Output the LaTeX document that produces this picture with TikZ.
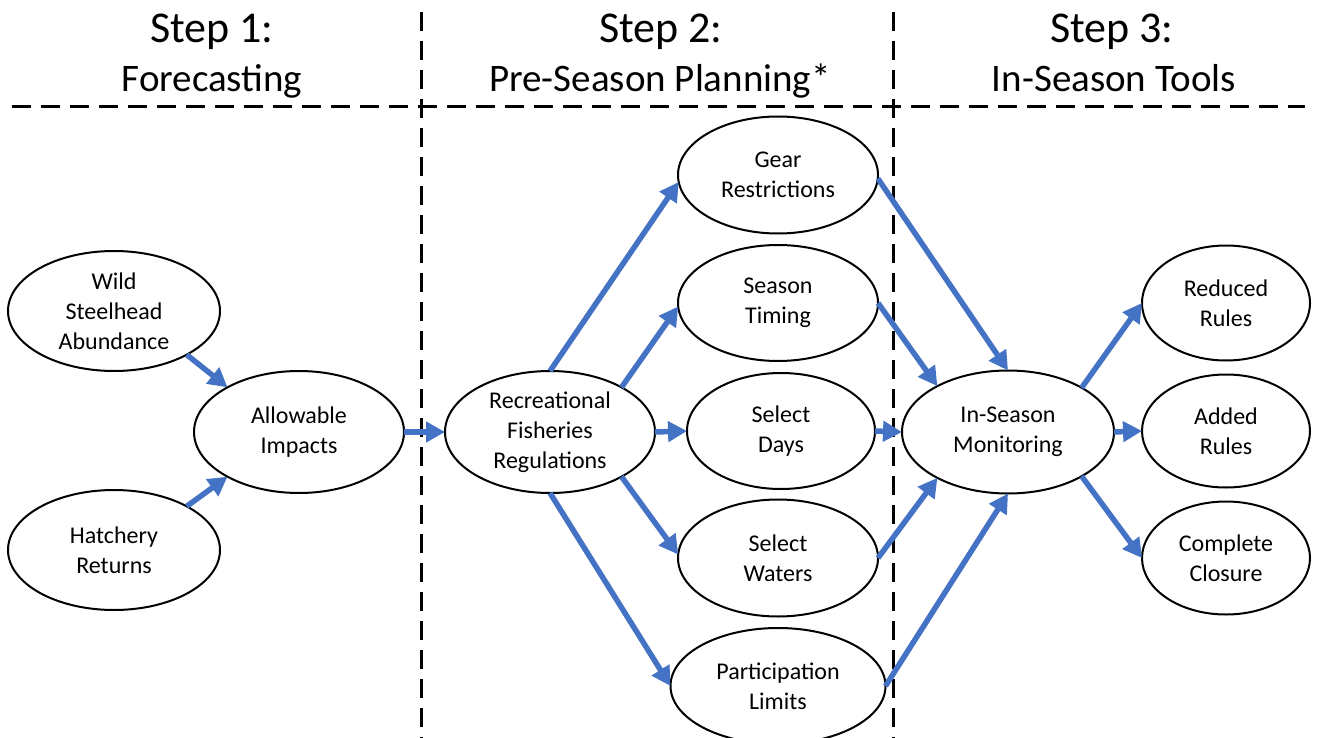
\documentclass[tikz,border=0pt]{standalone}
\usepackage{fontspec}
\setmainfont{Carlito}
\usetikzlibrary{arrows.meta,shapes.geometric}
\definecolor{arrowblue}{HTML}{4472C4}
\begin{document}
\begin{tikzpicture}[x=1pt,y=-1pt,
  oval/.style={ellipse,draw=black,line width=2pt,inner sep=0pt,outer sep=0pt,
    minimum width=210pt,minimum height=122pt,align=center,
    font=\fontsize{24}{30}\selectfont},
  flow/.style={draw=arrowblue,line width=5.5pt,
    -{Triangle[length=19pt,width=20pt]},shorten <=0pt},
  divider/.style={line width=3pt,dash pattern=on 19pt off 10pt},
  title/.style={anchor=base,font=\fontsize{44}{50}\selectfont},
  subtitle/.style={anchor=base,font=\fontsize{39}{46}\selectfont}]
\useasboundingbox (0,0) rectangle (1319,738);
% dividers
\draw[divider] (12,107) -- (1305,107);
\draw[divider] (421,12) -- (421,738);
\draw[divider] (893,12) -- (893,738);
% titles
\node[title] (t1a) at (212,43) {Step 1:};
\node[subtitle] (t1b) at (212,92) {Forecasting};
\node[title] (t2a) at (661,43) {Step 2:};
\node[subtitle] (t2b) at (660,92) {Pre-Season Planning*};
\node[title] (t3a) at (1112,43) {Step 3:};
\node[subtitle] (t3b) at (1114,92) {In-Season Tools};
% nodes
\node[oval,minimum width=212pt,minimum height=120pt] (wild) at (114,311) {Wild\\Steelhead\\Abundance};
\node[oval,minimum width=212pt,minimum height=120pt] (hatch) at (114,550) {Hatchery\\Returns};
\node[oval] (allow) at (299,432) {Allowable\\Impacts};
\node[oval] (rec) at (550,432) {Recreational\\Fisheries\\Regulations};
\node[oval,minimum width=200pt,minimum height=117pt] (gear) at (778,175) {Gear\\Restrictions};
\node[oval,minimum width=200pt,minimum height=116pt] (season) at (778,303) {Season\\Timing};
\node[oval,minimum width=188pt,minimum height=116pt] (days) at (781,431) {Select\\Days};
\node[oval,minimum width=200pt,minimum height=117pt] (waters) at (778,558) {Select\\Waters};
\node[oval,minimum width=215pt,minimum height=116pt] (part) at (778,686) {Participation\\Limits};
\node[oval,minimum width=212pt,minimum height=123pt] (mon) at (1008,432) {In-Season\\Monitoring};
\node[oval,minimum width=168pt,minimum height=115pt] (red) at (1226,303) {Reduced\\Rules};
\node[oval,minimum width=168pt,minimum height=113pt] (add) at (1226,431) {Added\\Rules};
\node[oval,minimum width=168pt,minimum height=113pt] (comp) at (1226,558) {Complete\\Closure};
% connectors
\draw[flow] (wild.-31) -- (allow.148);
\draw[flow] (hatch.31) -- (allow.212);
\draw[flow] (allow.0) -- (rec.180);
\draw[flow] (rec.90) -- (gear.184);
\draw[flow] (rec.32) -- (season.182);
\draw[flow] (rec.0) -- (days.180);
\draw[flow] (rec.-32) -- (waters.178);
\draw[flow] (rec.-90) -- (part.180);
\draw[flow] (gear.-2) -- (mon.90);
\draw[flow] (season.0) -- (mon.147);
\draw[flow] (days.0) -- (mon.180);
\draw[flow] (waters.0) -- (mon.213);
\draw[flow] (part.0) -- (mon.270);
\draw[flow] (mon.31) -- (red.180);
\draw[flow] (mon.0) -- (add.180);
\draw[flow] (mon.-31) -- (comp.180);
\end{tikzpicture}
\end{document}
